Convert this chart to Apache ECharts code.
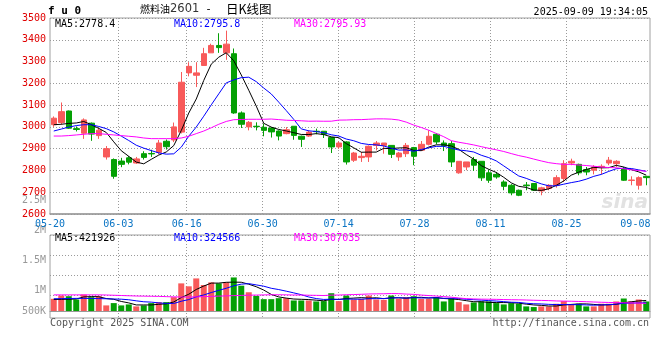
<!DOCTYPE html>
<html><head><meta charset="utf-8">
<script src="https://cdn.jsdelivr.net/npm/echarts@6/dist/echarts.min.js"></script>
<style>html,body{margin:0;padding:0;background:#fff}#c{width:660px;height:360px}</style>
</head><body><div id="c"></div>
<script>
const dates = ['05-20','05-21','05-22','05-23','05-26','05-27','05-28','05-29','05-30',
'06-03','06-04','06-05','06-06','06-09','06-10','06-11','06-12','06-13','06-16','06-17','06-18','06-19','06-20',
'06-23','06-24','06-25','06-26','06-27','06-30','07-01','07-02','07-03','07-04','07-07','07-08','07-09','07-10','07-11',
'07-14','07-15','07-16','07-17','07-18','07-21','07-22','07-23','07-24','07-25','07-28','07-29','07-30','07-31','08-01',
'08-04','08-05','08-06','08-07','08-08','08-11','08-12','08-13','08-14','08-15','08-18','08-19','08-20','08-21','08-22',
'08-25','08-26','08-27','08-28','08-29','09-01','09-02','09-03','09-04','09-05','09-08','09-09'];
const opens = [3010,3020,3073,2992,2971,3017,2960,2862,2850,2843,2858,2834,2877,2878,2883,2934,2940,2976,3248,3237,3282,3340,3374,3340,3336,3064,3000,3003,2998,2995,2981,2969,3003,2957,2958,2980,2980,2951,2908,2931,2847,2859,2862,2915,2915,2915,2862,2877,2905,2893,2920,2966,2926,2923,2789,2816,2850,2842,2789,2782,2747,2732,2709,2733,2740,2706,2717,2732,2763,2834,2828,2804,2801,2816,2834,2831,2808,2754,2732,2773];
const closes = [3040,3070,2994,2988,3032,2967,2985,2900,2773,2828,2838,2853,2860,2876,2926,2909,3000,3205,3278,3248,3336,3374,3364,3380,3064,3012,3021,3001,2984,2977,2958,2987,2961,2943,2976,2978,2966,2908,2926,2839,2880,2865,2911,2926,2926,2874,2880,2915,2865,2920,2957,2931,2915,2839,2842,2839,2824,2766,2755,2770,2727,2697,2686,2730,2709,2720,2732,2767,2831,2842,2789,2793,2816,2819,2847,2842,2755,2756,2767,2767];
const lows = [3000,3010,2991,2979,2945,2936,2945,2850,2762,2815,2828,2830,2850,2862,2874,2896,2930,2970,3232,3183,3280,3340,3340,3308,3060,2995,2984,2984,2957,2951,2938,2966,2941,2908,2954,2966,2949,2880,2900,2827,2839,2839,2839,2892,2877,2857,2844,2862,2824,2889,2915,2920,2889,2816,2785,2801,2798,2752,2743,2762,2709,2686,2682,2709,2706,2686,2709,2721,2747,2824,2778,2778,2782,2782,2824,2816,2752,2732,2712,2732];
const highs = [3048,3112,3075,3002,3039,3020,2995,2912,2855,2858,2866,2862,2888,2895,2940,2942,3020,3252,3297,3297,3363,3382,3430,3442,3360,3071,3027,3021,3015,2999,2984,2999,3003,2960,2984,2992,2980,2954,2934,2934,2885,2885,2915,2935,2926,2915,2885,2926,2908,2935,2984,2972,2938,2935,2842,2839,2862,2842,2804,2793,2755,2737,2712,2747,2740,2725,2737,2778,2847,2854,2831,2816,2824,2828,2862,2847,2816,2773,2773,2773];
const ma5 = [3010,3012,3016,3018,3024.8,3010.2,2993.2,2974.4,2931.4,2890.6,2864.8,2838.4,2830.4,2851,2870.6,2884.8,2914.2,2983.2,3063.6,3128,3213.4,3288.2,3320,3340.4,3303.6,3238.8,3168.2,3095.6,3016.4,2999,2988.2,2981.4,2973.4,2965.2,2965,2969,2964.8,2954.2,2950.8,2923.4,2903.8,2883.6,2884.2,2884.2,2901.6,2900.4,2903.4,2904.2,2892,2890.8,2907.4,2917.6,2917.6,2912.4,2896.8,2873.2,2851.8,2822,2805.2,2790.8,2768.4,2743,2727,2722,2709.8,2708.4,2715.4,2731.6,2751.8,2778.4,2792.2,2804.4,2814.2,2811.8,2812.8,2823.4,2815.8,2803.8,2793.4,2778.4];
const ma10 = [2981,2990,2999,3006,3010,3010,3002,2992,2977,2957.7,2937.5,2915.8,2902.4,2891.2,2880.6,2874.8,2876.3,2906.8,2957.3,2999.3,3049.1,3101.2,3151.6,3202,3215.8,3226.1,3228.2,3207.8,3178.4,3151.3,3113.5,3074.8,3034.5,2990.8,2982,2978.6,2973.1,2963.8,2958,2944.2,2936.4,2924.2,2919.2,2917.5,2912.5,2902.1,2893.5,2894.2,2888.1,2896.2,2903.9,2910.5,2910.9,2902.2,2893.8,2890.3,2884.7,2869.8,2858.8,2843.8,2820.8,2797.4,2774.5,2763.6,2750.3,2738.4,2729.2,2729.3,2736.9,2744.1,2750.3,2759.9,2772.9,2781.8,2795.6,2807.8,2810.1,2809,2802.6,2795.8];
const ma30 = [2958,2958,2960,2963,2966,2969,2969,2966,2963,2960,2957,2954,2949,2946,2946,2946,2946,2949,2957,2969,2981,2996,3012,3025,3033,3034,3035,3035,3035,3036.1,3033.4,3030.6,3029.5,3028,3026.1,3026.5,3025.9,3026.1,3031.2,3031.6,3033,3033.4,3035.1,3036.8,3036.8,3035.6,3031.6,3021.9,3008.2,2997.2,2984.6,2969.8,2954.9,2936.8,2929.4,2923.7,2917.1,2909.3,2901.6,2894.7,2887,2877.4,2868.2,2861.1,2852.2,2843.6,2835.8,2831.1,2827.9,2828,2825,2822.6,2819.4,2815.9,2813.2,2812.2,2808,2802.7,2799.4,2795.9];
// volume in thousands
const volumeK = [487,619,592,461,658,553,592,224,316,224,263,184,224,316,355,355,553,1105,987,1303,1040,1145,1105,1145,1342,1013,750,605,474,474,513,513,421,421,421,382,395,711,395,619,461,487,619,461,447,619,487,553,592,487,487,553,382,513,355,263,342,382,382,316,263,316,290,184,158,184,184,290,395,263,290,184,184,290,290,382,500,382,461,382];
const volMa5K = [460,465,470,480,563,577,571,498,469,382,324,242,242,242,268,287,361,537,671,861,998,1116,1116,1148,1155,1150,1071,971,837,663,563,516,479,468,458,432,408,466,461,500,516,535,516,529,495,527,527,513,540,548,521,534,500,484,458,413,371,371,345,337,337,332,313,274,242,226,200,200,242,263,284,284,263,242,248,266,329,369,403,421.9];
const volMa10K = [490,495,500,505,505,500,495,490,480,473,450,407,370,355,325,305,301,390,457,565,642,738,826,909,1008,1074,1094,1044,992,909,857,793,725,653,561,497,462,473,465,479,474,471,491,495,498,521,531,515,535,521,524,531,507,512,503,467,453,436,415,398,375,351,342,309,290,282,266,257,258,253,255,242,232,242,255,275,307,316,323,324.6];
const volMa30K = [645,645,645,645,645,645,645,640,630,620,610,600,595,590,585,575,565,560,560,565,575,585,595,605,615,625,632,638,644,649,650,646,640,639,631,626,619,635,638,651,658,668,681,686,689,698,695,677,664,637,618,598,574,553,520,495,482,474,471,466,458,451,447,439,430,423,416,402,396,390,382,372,360,350,342,335,329,322,315,307];
const volTickLabels = ['2.5M','','','2M','','','1.5M','','','1M','','500K'];
const dateLabelIdx = [0,9,18,28,38,48,58,68,78];
const dateGridIdx = [9,18,28,38,48,58,68];

const UP = '#f85a5a', DOWN = '#04a004';
const MONO = '"DejaVu Sans Mono", monospace';
const GRIDLINE = {color:'#9a9a9a', type:[1,2], width:1};
const ohlc = opens.map((o,i)=>[o, closes[i], lows[i], highs[i]]);
const isUp = i => closes[i] >= opens[i];

const chart = echarts.init(document.getElementById('c'), null, {renderer:'canvas'});
const txt = (x,y,text,fill,extra) => Object.assign({type:'text', x:x, y:y, silent:true,
  style:{text:text, font:'10px '+MONO, fill:fill, verticalAlign:'middle'}}, extra||{});

chart.setOption({
  animation:false,
  backgroundColor:'#fff',
  grid:[
    {left:50, top:18, width:600, height:196, show:true, borderColor:'#a0a0a0', borderWidth:1, backgroundColor:'transparent'},
    {left:50, top:235, width:600, height:83, show:true, borderColor:'#a0a0a0', borderWidth:1, backgroundColor:'transparent'},
    {left:50, top:200, width:600, height:111},
    {left:50, top:235, width:600, height:60}
  ],
  xAxis:[
    {type:'category', gridIndex:0, data:dates, boundaryGap:true,
     axisLine:{show:true, lineStyle:{color:'#999', width:1.5}}, axisTick:{show:false}, axisLabel:{show:false}, splitLine:{show:false}},
    {type:'category', gridIndex:0, data:dates, boundaryGap:false, position:'bottom',
     axisLine:{show:false}, axisTick:{show:false},
     axisLabel:{interval:(i)=>dateLabelIdx.indexOf(i)>=0, color:'#0a74c4', fontFamily:MONO, fontSize:10, margin:5,
       formatter:(v,i)=> i===78 ? '{e|'+v+'}' : v,
       rich:{e:{color:'#0a74c4', fontFamily:MONO, fontSize:10, padding:[0,14,0,0]}}},
     splitLine:{show:true, interval:(i)=>dateGridIdx.indexOf(i)>=0, lineStyle:GRIDLINE}},
    {type:'category', gridIndex:1, data:dates, boundaryGap:true,
     axisLine:{show:true, lineStyle:{color:'#999'}}, axisTick:{show:false}, axisLabel:{show:false}, splitLine:{show:false}},
    {type:'category', gridIndex:1, data:dates, boundaryGap:false,
     axisLine:{show:false}, axisLabel:{show:false},
     axisTick:{show:true, interval:(i)=>dateGridIdx.indexOf(i)>=0, length:4, lineStyle:GRIDLINE},
     splitLine:{show:true, interval:(i)=>dateGridIdx.indexOf(i)>=0, lineStyle:GRIDLINE}},
    {type:'value', gridIndex:2, show:false},
    {type:'value', gridIndex:3, show:false}
  ],
  yAxis:[
    {type:'value', gridIndex:0, min:2600, max:3500, interval:100,
     axisLine:{show:false}, axisTick:{show:false},
     axisLabel:{color:'#e00000', fontFamily:MONO, fontSize:10, margin:4, padding:[0,0,4,0], formatter:(v)=>String(v)},
     splitLine:{show:true, lineStyle:GRIDLINE}},
    {type:'value', gridIndex:1, min:-280, max:3040, show:false, splitLine:{show:false}},
    {type:'category', gridIndex:2, data:volTickLabels, inverse:true, boundaryGap:false,
     axisLine:{show:false}, axisTick:{show:false}, splitLine:{show:false},
     axisLabel:{interval:0, color:'#999', fontFamily:MONO, fontSize:10, margin:4}},
    {type:'value', gridIndex:3, min:0, max:3, interval:1,
     axisLine:{show:false}, axisTick:{show:false}, axisLabel:{show:false},
     splitLine:{show:true, lineStyle:GRIDLINE}}
  ],
  series:[
    {type:'candlestick', xAxisIndex:0, yAxisIndex:0, data:ohlc, barWidth:6,
     itemStyle:{color:UP, color0:DOWN, borderColor:UP, borderColor0:DOWN, borderWidth:1}},
    {type:'line', xAxisIndex:0, yAxisIndex:0, data:ma5, symbol:'none', lineStyle:{color:'#000', width:1}},
    {type:'line', xAxisIndex:0, yAxisIndex:0, data:ma10, symbol:'none', lineStyle:{color:'#0000ff', width:1}},
    {type:'line', xAxisIndex:0, yAxisIndex:0, data:ma30, symbol:'none', lineStyle:{color:'#ff00ff', width:1}},
    {type:'bar', xAxisIndex:2, yAxisIndex:1, data:volumeK, barWidth:6,
     itemStyle:{color:(p)=> isUp(p.dataIndex) ? UP : DOWN}},
    {type:'line', xAxisIndex:2, yAxisIndex:1, data:volMa5K, symbol:'none', lineStyle:{color:'#000', width:1}},
    {type:'line', xAxisIndex:2, yAxisIndex:1, data:volMa10K, symbol:'none', lineStyle:{color:'#0000ff', width:1}},
    {type:'line', xAxisIndex:2, yAxisIndex:1, data:volMa30K, symbol:'none', lineStyle:{color:'#ff00ff', width:1}}
  ],
  graphic:[
    txt(48, 11, 'f u 0', '#000', {style:{text:'f u 0', font:'bold 11px '+MONO, fill:'#000', verticalAlign:'middle'}}),
    {type:'text', x:140, y:9, silent:true, style:{
      text:'{a|燃料油}{b|2601}{c|-}{d|日K线图}', verticalAlign:'middle',
      rich:{
        a:{fontFamily:'"Noto Sans CJK SC"', fontSize:10, fill:'#000', color:'#000'},
        b:{fontFamily:'"DejaVu Sans"', fontSize:11.5, fill:'#333', color:'#333'},
        c:{fontFamily:MONO, fontSize:11, fill:'#000', color:'#000', padding:[0,14,0,6]},
        d:{fontFamily:'"Noto Sans CJK SC"', fontSize:12.5, fill:'#000', color:'#000'}
      }}},
    txt(648, 12, '2025-09-09 19:34:05', '#000', {style:{text:'2025-09-09 19:34:05', font:'10px '+MONO, fill:'#000', align:'right', verticalAlign:'middle'}}),
    txt(55, 24, 'MA5:2778.4', '#000'),
    txt(174, 24, 'MA10:2795.8', '#0000ff'),
    txt(294, 24, 'MA30:2795.93', '#ff00ff'),
    txt(55, 238, 'MA5:421926', '#000'),
    txt(174, 238, 'MA10:324566', '#0000ff'),
    txt(294, 238, 'MA30:307035', '#ff00ff'),
    txt(50, 323, 'Copyright 2025 SINA.COM', '#555'),
    txt(649, 323, 'http://finance.sina.com.cn', '#555', {style:{text:'http://finance.sina.com.cn', font:'10px '+MONO, fill:'#555', align:'right', verticalAlign:'middle'}}),
    {type:'text', x:648, y:203, silent:true, z:-1, style:{text:'sina', font:'italic bold 20px "DejaVu Sans"', fill:'#e2e2e2', align:'right', verticalAlign:'middle'}}
  ]
});
</script></body></html>
